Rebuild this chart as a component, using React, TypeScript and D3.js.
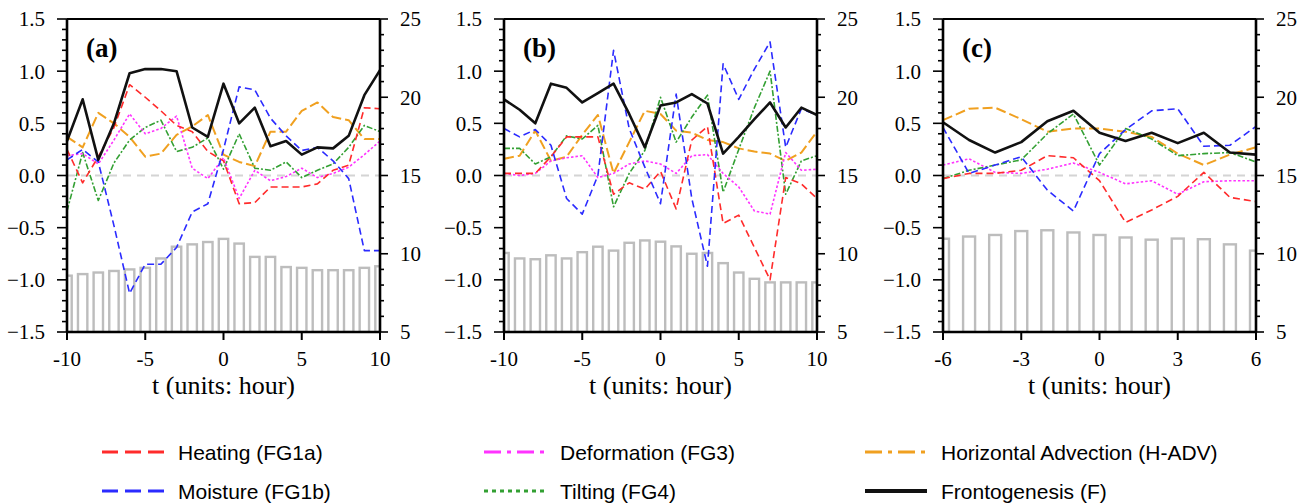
import React from "react";
import * as d3 from "d3";

// x categories (hours relative to the event)
const hoursAB = [-10, -9, -8, -7, -6, -5, -4, -3, -2, -1, 0, 1, 2, 3, 4, 5, 6, 7, 8, 9, 10];
const hoursC = [-6, -5, -4, -3, -2, -1, 0, 1, 2, 3, 4, 5, 6];

// tick labels
const leftTicks = [-1.5, -1.0, -0.5, 0.0, 0.5, 1.0, 1.5];
const rightTicks = [5, 10, 15, 20, 25];
const xTicksAB = [-10, -5, 0, 5, 10];
const xTicksC = [-6, -3, 0, 3, 6];

// panel (a)
const heatA = [0.25, -0.07, 0.18, 0.46, 0.87, 0.75, 0.62, 0.48, 0.42, 0.23, 0.14, -0.27, -0.26, -0.11, -0.11, -0.11, -0.08, 0.05, 0.1, 0.65, 0.64];
const moistA = [0.15, 0.25, 0.13, -0.48, -1.13, -0.85, -0.85, -0.69, -0.35, -0.27, 0.25, 0.85, 0.82, 0.55, 0.38, 0.24, 0.27, 0.14, -0.03, -0.72, -0.72];
const deformA = [0.19, 0.21, 0.11, 0.34, 0.59, 0.4, 0.45, 0.57, 0.07, -0.03, 0.17, -0.22, 0.05, -0.05, -0.01, 0.07, -0.02, 0.02, 0.08, 0.2, 0.33];
const tiltA = [-0.34, 0.22, -0.24, 0.12, 0.34, 0.46, 0.53, 0.23, 0.27, 0.36, 0.06, 0.4, 0.07, 0.05, 0.13, -0.02, 0.05, 0.11, 0.27, 0.48, 0.42];
const hadvA = [0.37, 0.27, 0.6, 0.5, 0.37, 0.18, 0.21, 0.39, 0.47, 0.58, 0.2, 0.13, 0.09, 0.42, 0.42, 0.62, 0.7, 0.56, 0.53, 0.35, 0.35];
const frontA = [0.33, 0.73, 0.15, 0.5, 0.98, 1.02, 1.02, 1.0, 0.46, 0.37, 0.88, 0.5, 0.65, 0.28, 0.33, 0.2, 0.27, 0.26, 0.38, 0.77, 1.01];
const barA = [8.6, 8.7, 8.8, 8.9, 9.0, 9.1, 9.7, 10.45, 10.6, 10.75, 10.95, 10.65, 9.8, 9.8, 9.15, 9.1, 8.95, 8.95, 8.95, 9.1, 9.2];

// panel (b)
const heatB = [0.02, 0.02, 0.02, 0.18, 0.37, 0.37, 0.37, -0.18, -0.07, -0.13, 0.04, -0.32, 0.34, 0.47, -0.46, -0.38, -0.69, -1.0, -0.02, -0.08, -0.22];
const moistB = [0.45, 0.37, 0.44, 0.29, -0.22, -0.37, 0.0, 1.2, 0.45, 0.08, -0.27, 0.78, -0.22, -0.87, 1.07, 0.73, 1.02, 1.28, 0.27, 0.64, 0.58];
const deformB = [0.02, 0.0, 0.02, 0.14, 0.17, 0.19, -0.02, 0.02, 0.11, 0.14, 0.11, 0.02, 0.19, 0.2, 0.02, -0.11, -0.34, -0.37, 0.22, 0.05, 0.06];
const tiltB = [0.26, 0.26, 0.11, 0.18, 0.38, 0.35, 0.48, -0.3, 0.02, 0.24, 0.75, 0.32, 0.56, 0.77, -0.16, 0.25, 0.65, 1.0, -0.18, 0.14, 0.19];
const hadvB = [0.16, 0.19, 0.43, 0.14, 0.18, 0.39, 0.58, 0.02, 0.32, 0.62, 0.59, 0.43, 0.41, 0.34, 0.32, 0.26, 0.23, 0.21, 0.14, 0.22, 0.42];
const frontB = [0.73, 0.63, 0.5, 0.88, 0.84, 0.7, 0.79, 0.88, 0.59, 0.27, 0.67, 0.7, 0.78, 0.69, 0.21, 0.37, 0.54, 0.7, 0.46, 0.65, 0.58];
const barB = [10.05, 9.7, 9.65, 9.9, 9.7, 10.1, 10.45, 10.2, 10.7, 10.85, 10.77, 10.47, 10.0, 10.05, 9.4, 8.8, 8.4, 8.17, 8.17, 8.17, 8.17];

// panel (c)
const heatC = [-0.03, 0.02, 0.02, 0.05, 0.19, 0.17, -0.05, -0.45, -0.33, -0.2, 0.03, -0.21, -0.25];
const moistC = [0.46, 0.02, 0.1, 0.18, -0.14, -0.34, 0.21, 0.44, 0.62, 0.64, 0.28, 0.29, 0.47];
const deformC = [0.1, 0.16, 0.03, 0.02, 0.06, 0.12, 0.03, -0.08, -0.05, -0.18, -0.06, -0.05, -0.05];
const tiltC = [-0.03, 0.05, 0.1, 0.15, 0.4, 0.59, 0.1, 0.45, 0.35, 0.19, 0.21, 0.22, 0.13];
const hadvC = [0.53, 0.64, 0.65, 0.54, 0.42, 0.45, 0.45, 0.42, 0.37, 0.21, 0.1, 0.2, 0.27];
const frontC = [0.51, 0.34, 0.22, 0.32, 0.52, 0.62, 0.41, 0.33, 0.41, 0.31, 0.41, 0.22, 0.2];
const barC = [10.96, 11.1, 11.2, 11.45, 11.5, 11.36, 11.2, 11.04, 10.9, 10.97, 10.93, 10.6, 10.2];

// series look (plot + legend)
const styles = {
  heat: { name: "Heating (FG1a)", color: "#ff2b2b", dash: "7,4", lw: 1.6, legDash: "16,7", legW: 3 },
  moist: { name: "Moisture (FG1b)", color: "#2b2bff", dash: "7,4", lw: 1.6, legDash: "16,7", legW: 3 },
  deform: { name: "Deformation (FG3)", color: "#ff33ff", dash: "2.5,2", lw: 1.6, legDash: "17,6,4,6", legW: 3 },
  tilt: { name: "Tilting (FG4)", color: "#33a033", dash: "6,2,2,2", lw: 1.6, legDash: "4,4", legW: 3 },
  hadv: { name: "Horizontal Advection (H-ADV)", color: "#f0a020", dash: "10,4", lw: 2, legDash: "17,6,4,6", legW: 3 },
  front: { name: "Frontogenesis (F)", color: "#111111", dash: null, lw: 2.6, legDash: null, legW: 4 },
};
const drawOrder = ["hadv", "tilt", "deform", "heat", "moist", "front"];
const legendRows = [
  ["heat", "deform", "hadv"],
  ["moist", "tilt", "front"],
];

const TOP = 19;
const BOTTOM = 332;
const W = 313;
const serif = "'Liberation Serif', 'Times New Roman', serif";
const sans = "'Liberation Sans', Arial, Helvetica, sans-serif";

type PanelProps = {
  id: string;
  left: number;
  hours: number[];
  xTicks: number[];
  label: string;
  data: Record<string, number[]>;
  bars: number[];
  barFrac: number;
};

function Panel({ id, left, hours, xTicks, label, data, bars, barFrac }: PanelProps) {
  const right = left + W;
  const x = d3.scaleLinear().domain([hours[0], hours[hours.length - 1]]).range([left, right]);
  const y = d3.scaleLinear().domain([-1.5, 1.5]).range([BOTTOM, TOP]);
  const yr = d3.scaleLinear().domain([5, 25]).range([BOTTOM, TOP]);
  const step = x(hours[1]) - x(hours[0]);
  const bw = step * barFrac;
  const fmt = d3.format(".1f");
  const minorL = d3.range(-15, 16).map((d) => d / 10);
  const minorR = d3.range(5, 26);

  return (
    <g>
      <defs>
        <clipPath id={id}>
          <rect x={left} y={TOP} width={W} height={BOTTOM - TOP} />
        </clipPath>
      </defs>
      {/* bars on the right axis */}
      <g clipPath={`url(#${id})`}>
        {bars.map((v, i) => (
          <rect
            key={i}
            x={x(hours[i]) - bw / 2}
            y={yr(v)}
            width={bw}
            height={BOTTOM - yr(v)}
            fill="none"
            stroke="#bdbdbd"
            strokeWidth={2.4}
          />
        ))}
      </g>
      <line x1={left} x2={right} y1={y(0)} y2={y(0)} stroke="#d4d4d4" strokeWidth={2} strokeDasharray="8,6" />
      {drawOrder.map((k) => {
        const s = styles[k];
        const gen = d3
          .line<number>()
          .x((_, i) => x(hours[i]))
          .y((d) => y(d));
        return (
          <path
            key={k}
            d={gen(data[k]) || ""}
            fill="none"
            stroke={s.color}
            strokeWidth={s.lw}
            strokeDasharray={s.dash || undefined}
            strokeLinejoin="round"
          />
        );
      })}
      {/* frame */}
      <line x1={left} x2={right} y1={TOP} y2={TOP} stroke="#000" strokeWidth={2} />
      <line x1={left - 1} x2={right + 1} y1={BOTTOM} y2={BOTTOM} stroke="#000" strokeWidth={2.6} />
      <line x1={left} x2={left} y1={TOP} y2={BOTTOM} stroke="#000" strokeWidth={2.6} />
      <line x1={right} x2={right} y1={TOP} y2={BOTTOM} stroke="#000" strokeWidth={2.6} />
      {/* left ticks */}
      {minorL.map((t, i) => (
        <line key={"lm" + i} x1={left} x2={left - (i % 5 === 0 ? 10 : 5)} y1={y(t)} y2={y(t)} stroke="#000" strokeWidth={1.6} />
      ))}
      {leftTicks.map((t) => (
        <text key={"lt" + t} x={left - 22} y={y(t)} dy="0.35em" textAnchor="end" fontFamily={serif} fontSize={21}>
          {fmt(t)}
        </text>
      ))}
      {/* right ticks */}
      {minorR.map((t, i) => (
        <line key={"rm" + i} x1={right} x2={right + (i % 5 === 0 ? 8 : 4)} y1={yr(t)} y2={yr(t)} stroke="#000" strokeWidth={1.6} />
      ))}
      {rightTicks.map((t) => (
        <text key={"rt" + t} x={right + 20} y={yr(t)} dy="0.35em" textAnchor="start" fontFamily={serif} fontSize={21}>
          {t}
        </text>
      ))}
      {/* bottom ticks */}
      {xTicks.map((t) => (
        <g key={"xt" + t}>
          <line x1={x(t)} x2={x(t)} y1={BOTTOM} y2={BOTTOM + 8} stroke="#000" strokeWidth={2} />
          <text x={x(t)} y={366} textAnchor="middle" fontFamily={serif} fontSize={21}>
            {t}
          </text>
        </g>
      ))}
      <text x={(left + right) / 2} y={394} textAnchor="middle" fontFamily={serif} fontSize={26}>
        t (units: hour)
      </text>
      <text x={left + 19} y={57} fontFamily={serif} fontSize={27} fontWeight="bold">
        {label}
      </text>
    </g>
  );
}

function Legend() {
  const cols = [102, 484, 865];
  const rowsY = [452, 491];
  return (
    <g>
      {legendRows.map((row, r) =>
        row.map((k, c) => {
          const s = styles[k];
          return (
            <g key={k}>
              <line
                x1={cols[c]}
                x2={cols[c] + 62}
                y1={rowsY[r]}
                y2={rowsY[r]}
                stroke={s.color}
                strokeWidth={s.legW}
                strokeDasharray={s.legDash || undefined}
              />
              <text x={cols[c] + 76} y={rowsY[r] + 7.5} fontFamily={sans} fontSize={21}>
                {s.name}
              </text>
            </g>
          );
        })
      )}
    </g>
  );
}

export default function App() {
  return (
    <svg
      width={1311}
      height={504}
      style={{ position: "absolute", left: 0, top: 0, background: "#fff" }}
    >
      <Panel
        id="clipA"
        left={67}
        hours={hoursAB}
        xTicks={xTicksAB}
        label="(a)"
        data={{ heat: heatA, moist: moistA, deform: deformA, tilt: tiltA, hadv: hadvA, front: frontA }}
        bars={barA}
        barFrac={0.6}
      />
      <Panel
        id="clipB"
        left={504}
        hours={hoursAB}
        xTicks={xTicksAB}
        label="(b)"
        data={{ heat: heatB, moist: moistB, deform: deformB, tilt: tiltB, hadv: hadvB, front: frontB }}
        bars={barB}
        barFrac={0.6}
      />
      <Panel
        id="clipC"
        left={943}
        hours={hoursC}
        xTicks={xTicksC}
        label="(c)"
        data={{ heat: heatC, moist: moistC, deform: deformC, tilt: tiltC, hadv: hadvC, front: frontC }}
        bars={barC}
        barFrac={0.46}
      />
      <Legend />
    </svg>
  );
}
